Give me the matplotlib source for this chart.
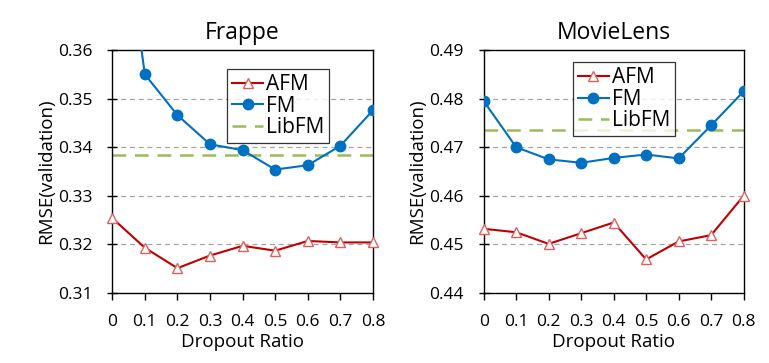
import numpy as np
import matplotlib
matplotlib.use("Agg")
import matplotlib.pyplot as plt

plt.rcParams['font.family'] = ['Open Sans', 'DejaVu Sans']

ratio = [0, 0.1, 0.2, 0.3, 0.4, 0.5, 0.6, 0.7, 0.8]
tick_labels = ['0', '0.1', '0.2', '0.3', '0.4', '0.5', '0.6', '0.7', '0.8']

# Frappe
frappe_afm = [0.3254, 0.3193, 0.3151, 0.3177, 0.3197, 0.3187, 0.3207, 0.3204, 0.3204]
frappe_fm = [0.404, 0.3550, 0.3466, 0.3406, 0.3394, 0.3354, 0.3363, 0.3403, 0.3476]
frappe_libfm = 0.3384

# MovieLens
ml_afm = [0.4532, 0.4525, 0.4501, 0.4523, 0.4545, 0.4469, 0.4506, 0.4519, 0.4600]
ml_fm = [0.4795, 0.4700, 0.4675, 0.4668, 0.4678, 0.4685, 0.4677, 0.4745, 0.4815]
ml_libfm = 0.4736

fig = plt.figure(figsize=(7.69, 3.63), dpi=100)
ax1 = fig.add_axes([0.146, 0.193, 0.339, 0.669])
ax2 = fig.add_axes([0.629, 0.193, 0.338, 0.669])


def draw(ax, afm, fm, libfm, ylim, yticks, title, legend_anchor):
    for y in yticks[1:-1]:
        ax.axhline(y, color='#A6A6A6', lw=0.9, ls=(0, (4, 3)), zorder=0)
    ax.plot(ratio, afm, color='#C00000', lw=1.5, marker='^', ms=7,
            mfc='white', mec='#E06060', mew=1.0, label='AFM', clip_on=False, zorder=3)
    ax.plot(ratio, fm, color='#0070C0', lw=1.5, marker='o', ms=7.5,
            mfc='#0070C0', mec='#0070C0', label='FM', zorder=3)
    ax.plot([ratio[0], ratio[-1]], [libfm, libfm], color='#9BBB59', lw=1.8,
            ls=(0, (5.5, 3.5)), label='LibFM', zorder=2)
    ax.set_xlim(0, 0.8)
    ax.set_ylim(*ylim)
    ax.set_xticks(ratio)
    ax.set_xticklabels(tick_labels)
    ax.set_yticks(yticks)
    ax.set_yticklabels(['%.2f' % v for v in yticks])
    ax.tick_params(axis='y', direction='inout', length=7, width=1, labelsize=12.5, pad=11)
    ax.tick_params(axis='x', direction='out', length=5, width=1, labelsize=12.5, pad=10)
    for s in ax.spines.values():
        s.set_linewidth(1.0)
    ax.set_title(title, fontsize=16.5, pad=8)
    ax.set_xlabel('Dropout Ratio', fontsize=13.5, labelpad=2, fontweight='medium')
    ax.set_ylabel('RMSE(validation)', fontsize=13.5, labelpad=2)
    leg = ax.legend(loc='upper left', bbox_to_anchor=legend_anchor, fontsize=15,
                    frameon=True, fancybox=False, borderpad=0.25, labelspacing=0.02,
                    handlelength=1.5, handletextpad=0.12, borderaxespad=0)
    leg.get_frame().set_edgecolor('black')
    leg.get_frame().set_linewidth(0.9)


draw(ax1, frappe_afm, frappe_fm, frappe_libfm, (0.31, 0.36),
     [0.31, 0.32, 0.33, 0.34, 0.35, 0.36], 'Frappe', (0.44, 0.922))
draw(ax2, ml_afm, ml_fm, ml_libfm, (0.44, 0.49),
     [0.44, 0.45, 0.46, 0.47, 0.48, 0.49], 'MovieLens', (0.342, 0.95))

fig.savefig('out.png', dpi=100)
